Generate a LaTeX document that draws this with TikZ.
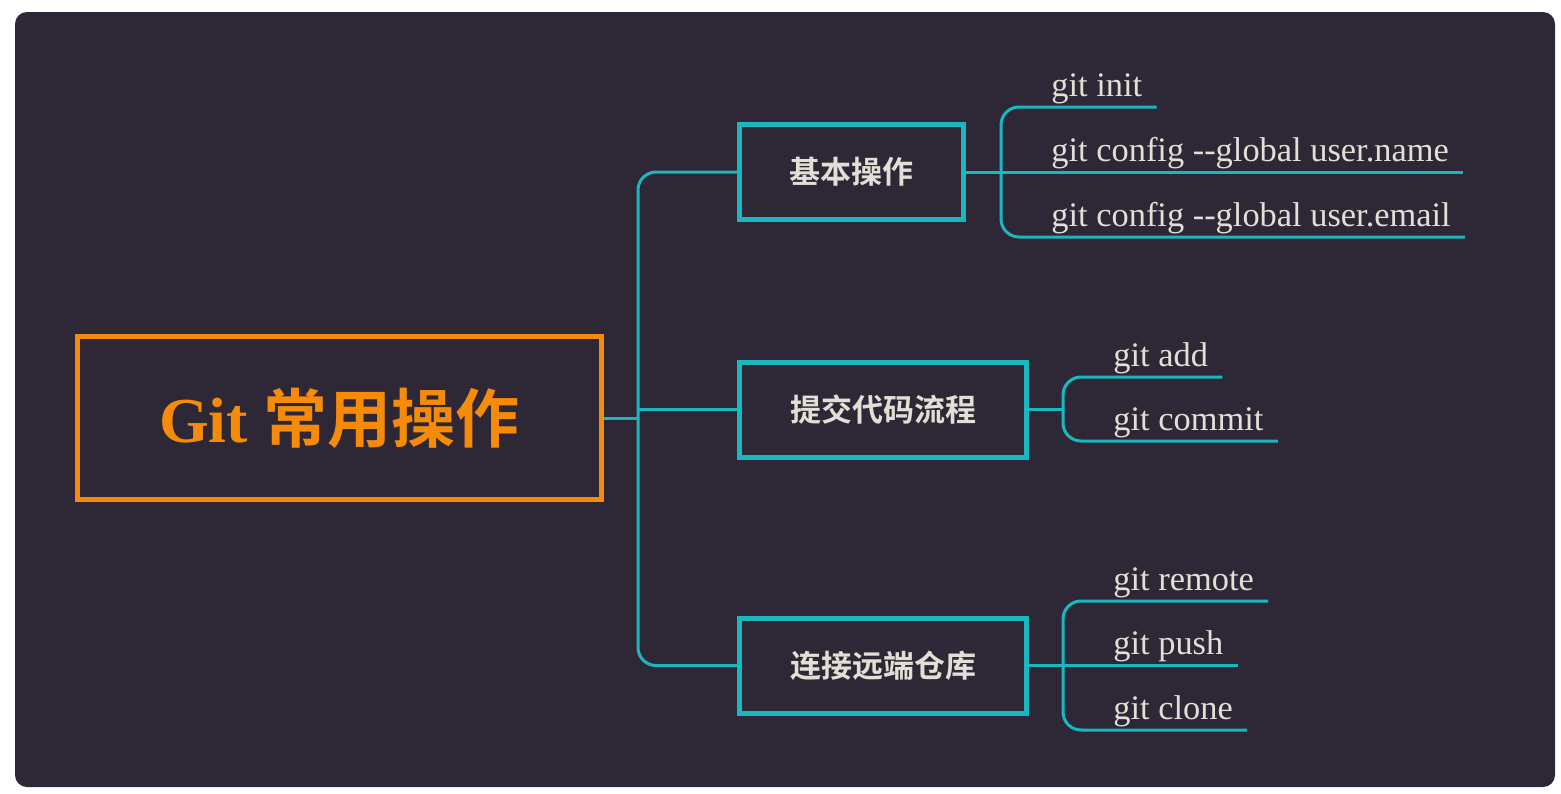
\documentclass[tikz,border=0pt]{standalone}
\usepackage{fontspec}
\setmainfont{Liberation Serif}
\newfontfamily\cjk[BoldFont={Noto Sans CJK SC Bold}]{Noto Sans CJK SC}
\usepackage{tikz}
\usetikzlibrary{positioning,calc}
\definecolor{bgdark}{HTML}{2E2836}
\definecolor{gitorange}{HTML}{F68B0A}
\definecolor{tealline}{HTML}{19B8C0}
\definecolor{leaftext}{HTML}{E2DFD6}
\tikzset{main/.style={draw=gitorange, line width=2.5pt, minimum width=262pt, minimum height=81.5pt, text=gitorange, font=\fontsize{32}{36}\selectfont\bfseries}}
\tikzstyle{sub}=[draw=tealline, line width=2.5pt, minimum height=47.5pt, text=leaftext, font=\fontsize{15.5}{18}\cjk\bfseries]
\tikzstyle{leaf}=[anchor=south west, inner xsep=7pt, inner ysep=1.5pt, text=leaftext, font=\fontsize{17.2}{20}\selectfont]
\tikzstyle{link}=[draw=tealline, line width=1.5pt, rounded corners=9pt]

\begin{document}
\begin{tikzpicture}[x=0.5pt, y=-0.5pt]
\useasboundingbox (0,0) rectangle (1561,793);
\fill[white] (0,0) rectangle (1561,793);
\fill[bgdark, rounded corners=6pt] (15,12) rectangle (1555,787);

\node[main] (git) at (339.5,418) {Git {\cjk\bfseries 常用操作}};
\node[sub, minimum width=112pt] (basic) at (851.5,172) {基本操作};
\node[sub, minimum width=143.5pt] (commit) at (883,409.5) {提交代码流程};
\node[sub, minimum width=143.5pt] (remote) at (883,665.5) {连接远端仓库};

\coordinate (tr) at (638,418);
\coordinate (ja) at (1001,172);
\coordinate (jb) at (1063,409.5);
\coordinate (jc) at (1063,665.5);

\node[leaf] (init) at (1037,107) {git init};
\node[leaf] (name) at (1037,172) {git config -{}-global user.name};
\node[leaf] (email) at (1037,237) {git config -{}-global user.email};
\node[leaf] (add) at (1099,377) {git add};
\node[leaf] (cmt) at (1099,441) {git commit};
\node[leaf] (rmt) at (1099,601) {git remote};
\node[leaf] (push) at (1099,665.5) {git push};
\node[leaf] (clone) at (1099,730) {git clone};

\draw[link] (git.east) -- (tr);
\draw[link] (basic.west) -- (tr |- basic.west) -- (tr |- remote.west) -- (remote.west);
\draw[link] (tr |- commit.west) -- (commit.west);

% leaves of each branch
\draw[link] (basic.east) -- (name.south east);
\draw[link] (init.south east) -- (ja |- init.south east) -- (ja |- email.south east) -- (email.south east);

\draw[link] (commit.east) -- (jb);
\draw[link] (add.south east) -- (jb |- add.south east) -- (jb |- cmt.south east) -- (cmt.south east);

\draw[link] (remote.east) -- (push.south east);
\draw[link] (rmt.south east) -- (jc |- rmt.south east) -- (jc |- clone.south east) -- (clone.south east);
\end{tikzpicture}
\end{document}
